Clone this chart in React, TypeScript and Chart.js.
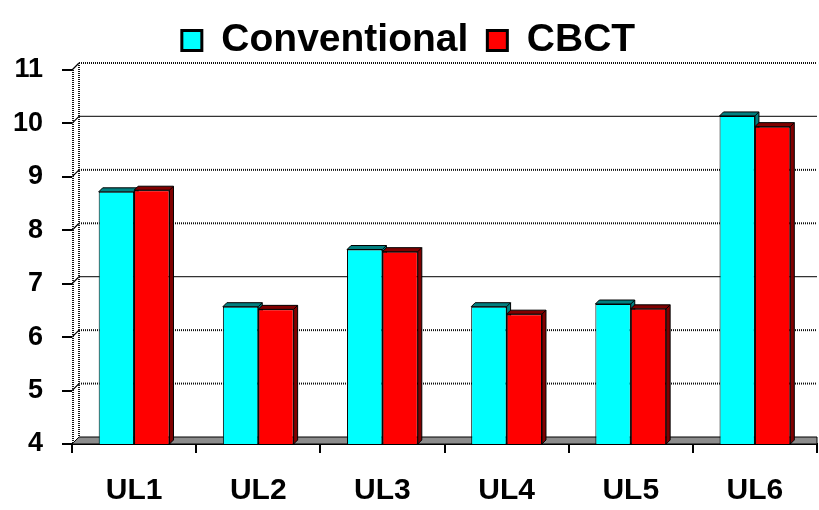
import React, { useEffect, useRef } from "react";
import { Chart, registerables } from "chart.js";

Chart.register(...registerables);

const categories = ["UL1", "UL2", "UL3", "UL4", "UL5", "UL6"];
const conventional = [8.72, 6.57, 7.64, 6.57, 6.62, 10.14];
const cbct = [8.75, 6.52, 7.6, 6.43, 6.53, 9.94];
const seriesNames = ["Conventional", "CBCT"];
const yMin = 4;
const yMax = 11;
const yStep = 1;

const FRONT_COLORS = ["#00FFFF", "#FF0000"];
const SIDE_COLORS = ["#008080", "#800000"];
const SOLID_GRID = [10, 7];
const FONT = "'Liberation Sans', Arial, sans-serif";

const DX = 7;
const DY = 7;
const BAR_D = 4;

const threeD = {
  id: "threeD",
  beforeDatasetsDraw(chart: any) {
    const { ctx, chartArea } = chart;
    const { left, right, top, bottom } = chartArea;
    const y = chart.scales.y;
    ctx.save();
    // floor
    ctx.fillStyle = "#8c8c8c";
    ctx.strokeStyle = "#000";
    ctx.lineWidth = 1;
    ctx.beginPath();
    ctx.moveTo(left, bottom);
    ctx.lineTo(left + DX, bottom - DY);
    ctx.lineTo(right, bottom - DY);
    ctx.lineTo(right, bottom);
    ctx.closePath();
    ctx.fill();
    ctx.stroke();
    // back wall gridlines
    for (let v = yMin + yStep; v <= yMax + 1e-9; v += yStep) {
      const py = y.getPixelForValue(v);
      const solid = SOLID_GRID.includes(v);
      ctx.strokeStyle = solid ? "#333" : "#111";
      ctx.lineWidth = solid ? 1.2 : 2;
      ctx.setLineDash(solid ? [] : [1, 1]);
      ctx.beginPath();
      ctx.moveTo(left + DX, py - DY);
      ctx.lineTo(right, py - DY);
      ctx.stroke();
      ctx.setLineDash([]);
      ctx.lineWidth = 1.2;
      ctx.strokeStyle = "#000";
      ctx.beginPath();
      ctx.moveTo(left, py);
      ctx.lineTo(left + DX, py - DY);
      ctx.stroke();
    }
    // left wall edges
    ctx.setLineDash([1, 1]);
    ctx.lineWidth = 2;
    ctx.strokeStyle = "#111";
    ctx.beginPath();
    ctx.moveTo(left + 1, top);
    ctx.lineTo(left + 1, bottom);
    ctx.moveTo(left + DX, top - DY);
    ctx.lineTo(left + DX, bottom - DY);
    ctx.stroke();
    ctx.setLineDash([]);
    // bar side faces (top and right)
    chart.data.datasets.forEach((ds: any, i: number) => {
      const meta = chart.getDatasetMeta(i);
      meta.data.forEach((bar: any) => {
        const p = bar.getProps(["x", "y", "width"], true);
        const x1 = p.x - p.width / 2;
        const x2 = p.x + p.width / 2;
        const yt = p.y;
        const yb = bottom;
        ctx.fillStyle = SIDE_COLORS[i];
        ctx.strokeStyle = "#000";
        ctx.lineWidth = 1;
        ctx.beginPath();
        ctx.moveTo(x1, yt);
        ctx.lineTo(x1 + BAR_D, yt - BAR_D);
        ctx.lineTo(x2 + BAR_D, yt - BAR_D);
        ctx.lineTo(x2 + BAR_D, yb - BAR_D);
        ctx.lineTo(x2, yb);
        ctx.lineTo(x2, yt);
        ctx.closePath();
        ctx.fill();
        ctx.stroke();
        ctx.beginPath();
        ctx.moveTo(x2, yt);
        ctx.lineTo(x2 + BAR_D, yt - BAR_D);
        ctx.stroke();
      });
    });
    ctx.restore();
  },
};

export default function App() {
  const ref = useRef<HTMLCanvasElement | null>(null);
  useEffect(() => {
    if (!ref.current) return;
    Chart.defaults.font.family = FONT;
    const chart = new Chart(ref.current, {
      type: "bar",
      data: {
        labels: categories,
        datasets: [
          {
            label: seriesNames[0],
            data: conventional,
            backgroundColor: FRONT_COLORS[0],
            borderColor: "#000",
            borderWidth: 1,
          },
          {
            label: seriesNames[1],
            data: cbct,
            backgroundColor: FRONT_COLORS[1],
            borderColor: "#000",
            borderWidth: 1,
          },
        ],
      },
      options: {
        responsive: false,
        animation: false,
        layout: { padding: { top: -14, left: 0, right: 2, bottom: 0 } },
        datasets: { bar: { categoryPercentage: 0.57, barPercentage: 1.0 } },
        plugins: {
          tooltip: { enabled: false },
          legend: {
            position: "top",
            labels: {
              color: "#000",
              font: { size: 39, weight: "bold", family: FONT },
              boxWidth: 20,
              boxHeight: 20,
              padding: 19,
              generateLabels: (c: any) => {
                const items = Chart.defaults.plugins.legend.labels.generateLabels(c);
                return items.map((it: any) => ({ ...it, lineWidth: 3, strokeStyle: "#000" }));
              },
            },
          },
        },
        scales: {
          x: {
            afterFit: (s: any) => {
              s.height = 66;
            },
            grid: {
              display: true,
              drawOnChartArea: false,
              drawTicks: true,
              tickLength: 9,
              color: "#000",
              lineWidth: 2,
            },
            border: { display: true, color: "#000", width: 2 },
            ticks: {
              color: "#000",
              padding: 20,
              font: { size: 30, weight: "bold", family: FONT },
            },
          },
          y: {
            min: yMin,
            max: yMax,
            afterFit: (s: any) => {
              s.width = 72;
              s.paddingTop = 70;
            },
            grid: {
              display: true,
              drawOnChartArea: false,
              drawTicks: true,
              tickLength: 10,
              color: "#000",
              lineWidth: 2,
            },
            border: { display: false },
            ticks: {
              stepSize: yStep,
              color: "#000",
              padding: 19,
              crossAlign: "near",
              font: { size: 27, weight: "bold", family: FONT },
            },
          },
        },
      },
      plugins: [threeD],
    });
    return () => chart.destroy();
  }, []);
  return (
    <div style={{ position: "absolute", left: 0, top: 0, width: 819, height: 510 }}>
      <canvas ref={ref} width={819} height={510} style={{ display: "block" }} />
    </div>
  );
}
